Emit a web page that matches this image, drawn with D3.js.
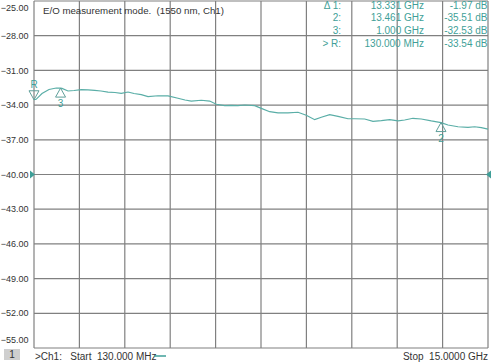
<!DOCTYPE html>
<html><head><meta charset="utf-8">
<script src="https://cdn.jsdelivr.net/npm/d3@7"></script>
<style>body{margin:0;background:#fff}svg{display:block}text{font-family:"Liberation Sans",Arial,sans-serif}</style>
</head><body><svg id="c" width="491" height="364"></svg>
<script>
// ---- data ----
const freqGHz = [0.13,0.20,0.392,0.621,0.860,1.0,1.047,1.244,1.440,1.679,1.899,2.118,2.324,2.554,2.783,2.989,3.209,3.405,3.644,3.864,4.191,4.519,4.846,5.076,5.282,5.610,5.885,6.101,6.376,6.582,6.811,7.031,7.358,7.575,7.850,8.122,8.449,8.777,9.048,9.324,9.540,9.815,10.087,10.414,10.634,10.961,11.233,11.505,11.780,12.052,12.271,12.543,12.815,13.143,13.461,13.690,14.017,14.345,14.564,14.781,15.0];
const magDB = [-33.54,-33.50,-33.00,-32.65,-32.52,-32.53,-32.56,-32.78,-32.74,-32.67,-32.69,-32.72,-32.78,-32.87,-32.91,-32.98,-32.87,-33.00,-33.10,-33.27,-33.19,-33.21,-33.41,-33.56,-33.65,-33.58,-33.65,-33.93,-34.05,-34.03,-34.05,-33.99,-34.05,-34.28,-34.57,-34.68,-34.68,-34.62,-34.88,-35.26,-35.05,-34.83,-34.97,-35.18,-35.18,-35.20,-35.40,-35.35,-35.26,-35.37,-35.29,-35.14,-35.20,-35.37,-35.51,-35.72,-35.87,-35.92,-35.87,-35.95,-36.07];
const yTicks = [-25,-28,-31,-34,-37,-40,-43,-46,-49,-52,-55];
const xDivisions = [0,1,2,3,4,5,6,7,8,9,10];
const markerLabels = ["\u0394 1:","2:","3:","> R:"];
const markerFreqs = ["13.331 GHz","13.461 GHz","1.000 GHz","130.000 MHz"];
const markerVals = ["-1.97 dB","-35.51 dB","-32.53 dB","-33.54 dB"];
const markers = [{name:"R",f:0.13,v:-33.54,dir:"down"},{name:"3",f:1.0,v:-32.53,dir:"up"},{name:"2",f:13.461,v:-35.51,dir:"up"}];
const refLevel = -40;
const startF = 0.13, stopF = 15.0;

const svg = d3.select("#c");
const L=34,R=488,T=1,B=348;
const x = d3.scaleLinear().domain([startF,stopF]).range([L,R]);
const xd = d3.scaleLinear().domain([0,10]).range([L,R]);
const y = d3.scaleLinear().domain([-55,-25]).range([B,T]);
const teal="#3f9f98", grid="#808080", txt="#333";

// grid
svg.append("g").selectAll("line").data(yTicks).join("line")
  .attr("x1",L).attr("x2",R).attr("y1",d=>y(d)).attr("y2",d=>y(d))
  .attr("stroke",grid).attr("stroke-width",1.2);
svg.append("g").selectAll("line").data(xDivisions).join("line")
  .attr("x1",d=>xd(d)).attr("x2",d=>xd(d)).attr("y1",T).attr("y2",B)
  .attr("stroke",grid).attr("stroke-width",1.2);

// y labels
svg.append("g").selectAll("text").data(yTicks).join("text")
  .attr("x",28.5).attr("y",(d,i)=> i===0? y(d)+7 : (i===yTicks.length-1? y(d)-8 : y(d)))
  .attr("dy","0.35em").attr("text-anchor","end").attr("font-size",9).attr("fill",txt)
  .text(d=>d3.format(".2f")(d));

// title
svg.append("text").attr("x",43).attr("y",14).attr("font-size",9.7).attr("fill",txt)
  .attr("xml:space","preserve").style("white-space","pre")
  .text("E/O measurement mode.  (1550 nm, Ch1)");

// table
const rowsY=[9,21,34,46.5];
svg.append("g").selectAll("text").data(markerLabels).join("text")
  .attr("x",341).attr("y",(d,i)=>rowsY[i]).attr("text-anchor","end").attr("font-size",10).attr("fill",teal).text(d=>d);
svg.append("g").selectAll("text").data(markerFreqs).join("text")
  .attr("x",424).attr("y",(d,i)=>rowsY[i]).attr("text-anchor","end").attr("font-size",10).attr("fill",teal).text(d=>d);
svg.append("g").selectAll("text").data(markerVals).join("text")
  .attr("x",487.5).attr("y",(d,i)=>rowsY[i]).attr("text-anchor","end").attr("font-size",10).attr("fill",teal).text(d=>d);

// trace
const line = d3.line().x((d,i)=>x(freqGHz[i])).y(d=>y(d));
svg.append("path").attr("d",line(magDB)).attr("fill","none").attr("stroke","#5aaea7").attr("stroke-width",1.2);

// markers
markers.forEach(m=>{
  const px=x(m.f), py=y(m.v);
  const g=svg.append("g");
  if(m.dir==="down"){
    g.append("path").attr("d",`M${px-5},${py-9}L${px+5},${py-9}L${px},${py}Z`).attr("fill","none").attr("stroke","#5f9f9a").attr("stroke-width",1);
    g.append("text").attr("x",px).attr("y",py-12).attr("text-anchor","middle").attr("font-size",10).attr("fill",teal).text(m.name);
  } else {
    g.append("path").attr("d",`M${px},${py}L${px+5},${py+9}L${px-5},${py+9}Z`).attr("fill","none").attr("stroke","#5f9f9a").attr("stroke-width",1);
    g.append("text").attr("x",px).attr("y",py+19).attr("text-anchor","middle").attr("font-size",10).attr("fill",teal).text(m.name);
  }
});

// reference level arrows
const ry=y(refLevel);
svg.append("path").attr("d",`M${L-4},${ry-4}L${L+1},${ry}L${L-4},${ry+4}Z`).attr("fill",teal);
svg.append("path").attr("d",`M${R+3},${ry-4}L${R-2},${ry}L${R+3},${ry+4}Z`).attr("fill",teal);

// footer
svg.append("rect").attr("x",4).attr("y",349).attr("width",16).attr("height",11).attr("fill","#cfcfcf");
svg.append("text").attr("x",12).attr("y",358).attr("text-anchor","middle").attr("font-size",10).attr("fill",txt).text("1");
svg.append("text").attr("x",35).attr("y",360).attr("font-size",10).attr("fill",txt)
  .attr("xml:space","preserve").style("white-space","pre").text(">Ch1:   Start  " + (startF*1000).toFixed(3) + " MHz");
svg.append("line").attr("x1",154).attr("x2",166).attr("y1",356).attr("y2",356).attr("stroke",teal).attr("stroke-width",1.5);
svg.append("text").attr("x",488).attr("y",360).attr("text-anchor","end").attr("font-size",10).attr("fill",txt)
  .attr("xml:space","preserve").style("white-space","pre").text("Stop  " + stopF.toFixed(4) + " GHz");
</script></body></html>
